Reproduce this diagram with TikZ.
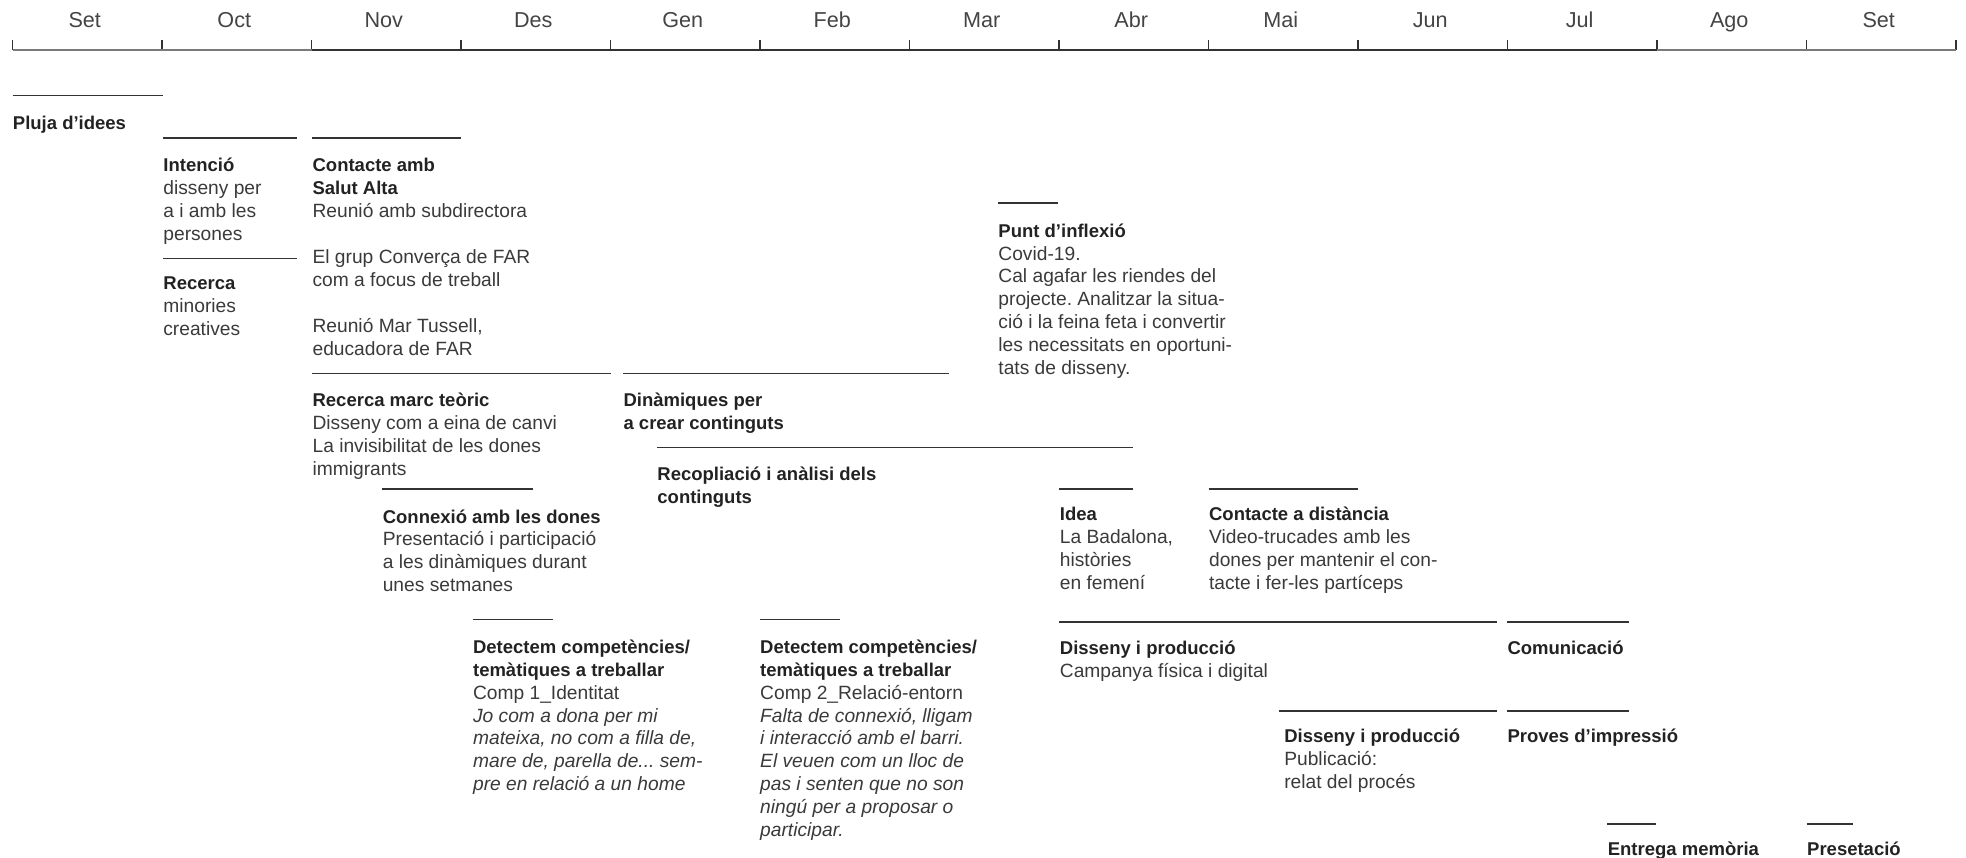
\documentclass[tikz,border=0pt]{standalone}
\usepackage{fontspec}
\setmainfont{Liberation Sans}
\frenchspacing
\definecolor{rulecol}{HTML}{333333}
\definecolor{bodycol}{HTML}{3A3A3A}
\definecolor{titlecol}{HTML}{222222}
\definecolor{monthcol}{HTML}{444444}
\definecolor{axislight}{HTML}{7A7A7A}
\newcommand\itemfont{\fontsize{9.6}{11.44}\selectfont}
\newcommand\monthfont{\fontsize{10.8}{13}\selectfont}
\newcommand\ttl[1]{{\fontsize{9.25}{11.44}\selectfont\bfseries\color{titlecol}#1}}
\newcommand\itl[1]{{\itshape #1}}
\begin{document}
\begin{tikzpicture}[x=0.6269pt,y=-0.6269pt,
  rule/.style={draw=rulecol,line width=0.75pt},
  axisrule/.style={draw=rulecol,line width=0.9pt},
  axislt/.style={draw=axislight,line width=0.9pt},
  item/.style={anchor=north west,inner sep=0pt,align=left,font=\itemfont,text=bodycol,yshift=-1.3pt},
  month/.style={anchor=base,font=\monthfont,text=monthcol,inner sep=0pt}]
\useasboundingbox (0,0) rectangle (1568,684);

% axis
\foreach \i in {0,...,13}{
  \coordinate (t\i) at ({10+119.23*\i},40);
  \draw[axisrule] (t\i) -- ++(0,-8);
}
\draw[axislt] (t0) -- (t2);
\draw[axisrule] (t2) -- (t11);
\draw[axislt] (t11) -- (t13);
\foreach \m [count=\i from 0] in {Set,Oct,Nov,Des,Gen,Feb,Mar,Abr,Mai,Jun,Jul,Ago,Set}{
  \node[month] (m\i) at ({8+119.23*(\i+0.5)},22) {\m};
}

% Pluja d'idees
\draw[rule] (10,76) -- (130,76);
\node[item] (pluja) at (10,88) {\strut\ttl{Pluja d’idees}};

% Intencio
\draw[rule] (130,110) -- (237,110);
\node[item] (intencio) at (130,122) {\strut\ttl{Intenció}\\disseny per\\a i amb les\\persones};

% Recerca
\draw[rule] (130,206) -- (237,206);
\node[item] (recerca) at (130,216) {\strut\ttl{Recerca}\\minories\\creatives};

% Contacte amb Salut Alta
\draw[rule] (249,110) -- (368,110);
\node[item] (contacte) at (249,122) {\strut\ttl{Contacte amb}\\\ttl{Salut Alta}\\Reunió amb subdirectora\\[11.44pt]El grup Converça de FAR\\com a focus de treball\\[11.44pt]Reunió Mar Tussell,\\educadora de FAR};

% Recerca marc teoric
\draw[rule] (249,298) -- (487,298);
\node[item] (marc) at (249,309) {\strut\ttl{Recerca marc teòric}\\Disseny com a eina de canvi\\La invisibilitat de les dones\\immigrants};

% Dinamiques
\draw[rule] (497,298) -- (757,298);
\node[item] (dinamiques) at (497,309) {\strut\ttl{Dinàmiques per}\\\ttl{a crear continguts}};

% Recopliacio
\draw[rule] (524,357) -- (904,357);
\node[item] (recopilacio) at (524,368) {\strut\ttl{Recopliació i anàlisi dels}\\\ttl{continguts}};

% Connexio
\draw[rule] (305,390) -- (425,390);
\node[item] (connexio) at (305,402) {\strut\ttl{Connexió amb les dones}\\Presentació i participació\\a les dinàmiques durant\\unes setmanes};

% Detectem 1
\draw[rule] (377,494) -- (441,494);
\node[item] (detectemA) at (377,506) {\strut\ttl{Detectem competències/}\\\ttl{temàtiques a treballar}\\Comp 1\_Identitat\\\itl{Jo com a dona per mi}\\\itl{mateixa, no com a filla de,}\\\itl{mare de, parella de... sem-}\\\itl{pre en relació a un home}};

% Detectem 2
\draw[rule] (606,494) -- (670,494);
\node[item] (detectemB) at (606,506) {\strut\ttl{Detectem competències/}\\\ttl{temàtiques a treballar}\\Comp 2\_Relació-entorn\\\itl{Falta de connexió, lligam}\\\itl{i interacció amb el barri.}\\\itl{El veuen com un lloc de}\\\itl{pas i senten que no son}\\\itl{ningú per a proposar o}\\\itl{participar.}};

% Punt d'inflexio
\draw[rule] (796,162) -- (844,162);
\node[item] (punt) at (796,174) {\strut\ttl{Punt d’inflexió}\\Covid-19.\\Cal agafar les riendes del\\projecte. Analitzar la situa-\\ció i la feina feta i convertir\\les necessitats en oportuni-\\tats de disseny.};

% Idea
\draw[rule] (845,390) -- (904,390);
\node[item] (idea) at (845,400) {\strut\ttl{Idea}\\La Badalona,\\històries\\en femení};

% Contacte a distancia
\draw[rule] (964,390) -- (1083,390);
\node[item] (distancia) at (964,400) {\strut\ttl{Contacte a distància}\\Video-trucades amb les\\dones per mantenir el con-\\tacte i fer-les partíceps};

% Disseny i produccio 1
\draw[rule] (845,496) -- (1194,496);
\node[item] (dissenyA) at (845,507) {\strut\ttl{Disseny i producció}\\Campanya física i digital};

% Comunicacio
\draw[rule] (1202,496) -- (1299,496);
\node[item] (comunicacio) at (1202,507) {\strut\ttl{Comunicació}};

% Disseny i produccio 2
\draw[rule] (1020,567) -- (1194,567);
\node[item] (dissenyB) at (1024,577) {\strut\ttl{Disseny i producció}\\Publicació:\\relat del procés};

% Proves
\draw[rule] (1202,567) -- (1299,567);
\node[item] (proves) at (1202,577) {\strut\ttl{Proves d’impressió}};

% Entrega memoria
\draw[rule] (1282,657) -- (1321,657);
\node[item] (entrega) at (1282,667) {\strut\ttl{Entrega memòria}};

% Presetacio
\draw[rule] (1441,657) -- (1478,657);
\node[item] (presetacio) at (1441,667) {\strut\ttl{Presetació}};
\end{tikzpicture}
\end{document}
